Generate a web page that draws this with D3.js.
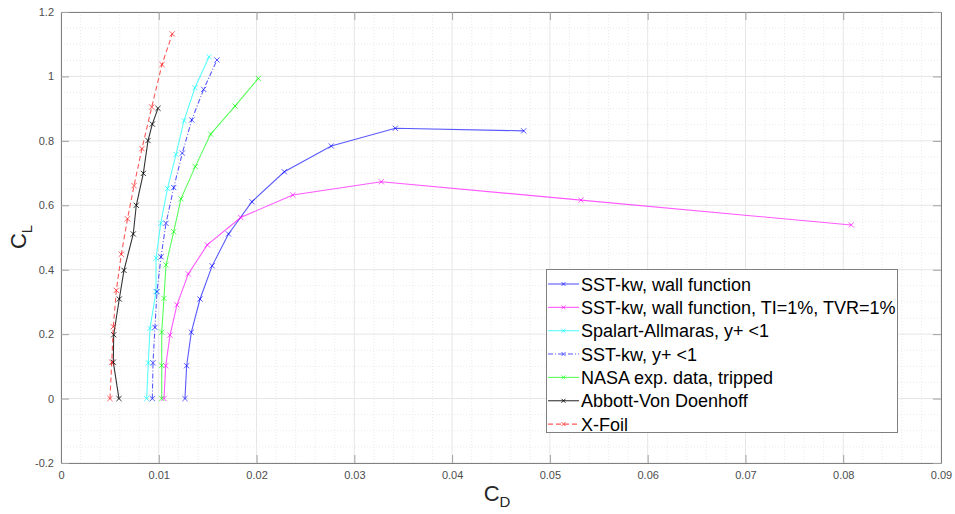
<!DOCTYPE html>
<html><head><meta charset="utf-8">
<script src="https://cdn.jsdelivr.net/npm/d3@7"></script>
<style>body{margin:0;background:#fff}svg{display:block;font-family:"Liberation Sans",Arial,sans-serif}</style>
</head><body><svg id="c" width="955" height="514"></svg>
<script>
// ---- data (CD, CL) ----
const seriesNames = ["SST-kw, wall function","SST-kw, wall function, TI=1%, TVR=1%","Spalart-Allmaras, y+ <1","SST-kw, y+ <1","NASA exp. data, tripped","Abbott-Von Doenhoff","X-Foil"];
const sstWallCD = [0.01268,0.01285,0.01333,0.01422,0.01546,0.01713,0.01953,0.02284,0.02764,0.03419,0.04732];
const sstWallCL = [0,0.102,0.206,0.309,0.412,0.511,0.611,0.704,0.784,0.839,0.831];
const sstTiCD = [0.01053,0.01071,0.01115,0.01186,0.01302,0.01496,0.01838,0.0237,0.03276,0.05318,0.08082];
const sstTiCL = [0,0.102,0.197,0.291,0.387,0.477,0.562,0.632,0.673,0.616,0.539];
const saCD = [0.00876,0.00893,0.0091,0.00972,0.00972,0.0102,0.01089,0.01176,0.01258,0.0137,0.01514];
const saCL = [0,0.111,0.218,0.332,0.436,0.544,0.652,0.758,0.863,0.965,1.061];
const sstYCD = [0.00934,0.00941,0.00961,0.00982,0.01023,0.01074,0.01153,0.01241,0.01337,0.01459,0.01595];
const sstYCL = [0,0.111,0.221,0.332,0.44,0.544,0.655,0.762,0.865,0.96,1.051];
const nasaCD = [0.0103,0.0103,0.0103,0.01053,0.01074,0.01153,0.01227,0.01373,0.01531,0.0178,0.02018];
const nasaCL = [0,0.103,0.206,0.311,0.415,0.518,0.62,0.72,0.821,0.908,0.994];
const avdCD = [0.00593,0.00535,0.00539,0.00596,0.00644,0.00739,0.0077,0.00842,0.0089,0.00934,0.00992];
const avdCL = [0,0.113,0.198,0.309,0.398,0.511,0.6,0.699,0.801,0.852,0.901];
const xfoilCD = [0.00501,0.00519,0.00535,0.00566,0.00617,0.0068,0.00747,0.00828,0.00928,0.01033,0.01138];
const xfoilCL = [0,0.113,0.223,0.336,0.448,0.558,0.661,0.776,0.905,1.037,1.132];
const xTicks = [0,0.01,0.02,0.03,0.04,0.05,0.06,0.07,0.08,0.09];
const yTicks = [-0.2,0,0.2,0.4,0.6,0.8,1,1.2];

const seriesCD = [sstWallCD,sstTiCD,saCD,sstYCD,nasaCD,avdCD,xfoilCD];
const seriesCL = [sstWallCL,sstTiCL,saCL,sstYCL,nasaCL,avdCL,xfoilCL];
const colors = ["#0000ff","#ff00ff","#00ffff","#0000ff","#00ff00","#000000","#ff0000"];
const dashes = [null,null,null,"5,2,1,2",null,null,"5,3"];

const svg = d3.select("#c");
const L=61,R=941,T=12,B=463;
const x = d3.scaleLinear().domain([0,0.09]).range([L,R]);
const y = d3.scaleLinear().domain([-0.2,1.2]).range([B,T]);

// minor grid
const g = svg.append("g");
const xMinor = d3.range(0,0.0901,0.002).filter(v=>Math.abs(v/0.01-Math.round(v/0.01))>1e-6);
const yMinor = d3.range(-0.2,1.2001,0.05).filter(v=>Math.abs(v/0.2-Math.round(v/0.2))>1e-6);
g.selectAll(".xm").data(xMinor).enter().append("line")
 .attr("x1",d=>x(d)).attr("x2",d=>x(d)).attr("y1",T).attr("y2",B)
 .attr("stroke","#dcdcdc").attr("stroke-width",0.6).attr("stroke-dasharray","1,2");
g.selectAll(".ym").data(yMinor).enter().append("line")
 .attr("y1",d=>y(d)).attr("y2",d=>y(d)).attr("x1",L).attr("x2",R)
 .attr("stroke","#dcdcdc").attr("stroke-width",0.6).attr("stroke-dasharray","1,2");
// major grid
g.selectAll(".xg").data(xTicks).enter().append("line")
 .attr("x1",d=>x(d)).attr("x2",d=>x(d)).attr("y1",T).attr("y2",B)
 .attr("stroke","#e6e6e6").attr("stroke-width",1);
g.selectAll(".yg").data(yTicks).enter().append("line")
 .attr("y1",d=>y(d)).attr("y2",d=>y(d)).attr("x1",L).attr("x2",R)
 .attr("stroke","#e6e6e6").attr("stroke-width",1);

// axes
const fmt = d=> d===0?"0":String(+d.toFixed(2));
const axB = svg.append("g").attr("transform",`translate(0,${B})`)
 .call(d3.axisBottom(x).tickValues(xTicks).tickFormat(fmt).tickSizeInner(-8).tickSizeOuter(0).tickPadding(8));
const axT = svg.append("g").attr("transform",`translate(0,${T})`)
 .call(d3.axisTop(x).tickValues(xTicks).tickFormat("").tickSizeInner(-8).tickSizeOuter(0));
const axL = svg.append("g").attr("transform",`translate(${L},0)`)
 .call(d3.axisLeft(y).tickValues(yTicks).tickFormat(fmt).tickSizeInner(-8).tickSizeOuter(0).tickPadding(7));
const axR = svg.append("g").attr("transform",`translate(${R},0)`)
 .call(d3.axisRight(y).tickValues(yTicks).tickFormat("").tickSizeInner(-8).tickSizeOuter(0));
[axB,axT,axL,axR].forEach(a=>{
  a.select(".domain").attr("stroke","#808080").attr("stroke-width",1);
  a.selectAll(".tick line").attr("stroke","#a0a0a0");
  a.selectAll("text").attr("fill","#4d4d4d").style("font-size","11px").style("font-family","'Liberation Sans Narrow','Liberation Sans',Arial,sans-serif");
});

// series
const line = d3.line().x(d=>x(d[0])).y(d=>y(d[1]));
const ms = 2.6;
seriesCD.forEach((cd,i)=>{
  const pts = cd.map((v,k)=>[v,seriesCL[i][k]]);
  const sg = svg.append("g").attr("stroke",colors[i]).attr("stroke-opacity",i===5?0.8:0.65).attr("fill","none");
  sg.append("path").attr("d",line(pts)).attr("stroke-width",1.1)
    .attr("stroke-dasharray",dashes[i]);
  sg.selectAll("path.m").data(pts).enter().append("path").attr("class","m")
    .attr("d",d=>{const cx=x(d[0]),cy=y(d[1]);return `M${cx-ms},${cy-ms}L${cx+ms},${cy+ms}M${cx-ms},${cy+ms}L${cx+ms},${cy-ms}`;})
    .attr("stroke-width",1);
});

// axis labels
const yl = svg.append("text").attr("transform","translate(26,237) rotate(-90)").attr("text-anchor","middle")
 .attr("fill","#262626").style("font-size","22px");
yl.append("tspan").text("C");
yl.append("tspan").text("L").attr("dy",6).style("font-size","15px");
const xl = svg.append("text").attr("x",497).attr("y",501).attr("text-anchor","middle")
 .attr("fill","#262626").style("font-size","22px");
xl.append("tspan").text("C");
xl.append("tspan").text("D").attr("dy",6).style("font-size","15px");

// legend
const lx=546, ly=269, lw=351, lh=163, rowH=23.35;
const lg = svg.append("g");
lg.append("rect").attr("x",lx+0.5).attr("y",ly+0.5).attr("width",lw).attr("height",lh)
 .attr("fill","#fff").attr("stroke","#808080").attr("stroke-width",1);
seriesNames.forEach((name,i)=>{
  const cy = ly+15+i*rowH;
  const eg = lg.append("g").attr("stroke",colors[i]).attr("stroke-opacity",i===5?0.8:0.65);
  eg.append("line").attr("x1",lx+2).attr("x2",lx+33).attr("y1",cy).attr("y2",cy)
    .attr("stroke-width",1.1).attr("stroke-dasharray",dashes[i]);
  const mx=lx+17.5, m=2;
  eg.append("path").attr("d",`M${mx-m},${cy-m}L${mx+m},${cy+m}M${mx-m},${cy+m}L${mx+m},${cy-m}`).attr("stroke-width",1);
  lg.append("text").attr("x",lx+35).attr("y",cy+6.5).text(name)
    .attr("fill","#000").style("font-size","18px");
});
</script></body></html>
